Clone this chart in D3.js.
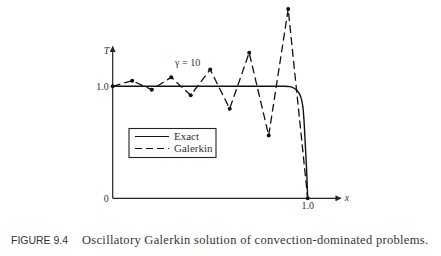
<!DOCTYPE html>
<html>
<head>
<meta charset="utf-8">
<script src="https://cdn.jsdelivr.net/npm/d3@7"></script>
<style>
  body { margin: 0; background: #fff; }
  svg { display: block; }
</style>
</head>
<body>
<script>
// Galerkin nodal values (gamma = 10)
let galerkinX = [0, 0.1, 0.2, 0.3, 0.4, 0.5, 0.6, 0.7, 0.8, 0.9, 1.0],
    galerkinT = [1.0, 1.05, 0.97, 1.08, 0.92, 1.15, 0.80, 1.30, 0.56, 1.69, 0.0];

// exact solution
let exactX = [0, 0.5, 0.88, 0.91, 0.935, 0.955, 0.967, 0.975, 0.98, 0.987, 0.994, 1.0],
    exactT = [1.0, 1.0, 1.0, 0.997, 0.978, 0.94, 0.89, 0.82, 0.72, 0.50, 0.27, 0.0];

let xTicks = [1.0],
    yTicks = [0, 1.0],
    legendLabels = ["Exact", "Galerkin"];

let width = 441,
    height = 256,
    serif = "'Liberation Serif', 'DejaVu Serif', serif";

let svg = d3.select("body").append("svg")
    .attr("width", width)
    .attr("height", height);

let xScale = d3.scaleLinear([0, 1], [112.7, 307.7]);
let yScale = d3.scaleLinear([0, 1], [198.3, 86.3]);

// arrow head
svg.append("defs").append("marker")
    .attr("id", "arrow")
    .attr("viewBox", "0 0 10 10")
    .attr("refX", 9)
    .attr("refY", 5)
    .attr("markerWidth", 7)
    .attr("markerHeight", 5)
    .attr("orient", "auto")
    .append("path")
    .attr("d", "M0,0 L10,5 L0,10 Z")
    .attr("fill", "#222");

// axes
svg.append("line")
    .attr("x1", xScale(0)).attr("y1", yScale(0))
    .attr("x2", xScale(1.17)).attr("y2", yScale(0))
    .attr("stroke", "#222").attr("stroke-width", 1.2)
    .attr("marker-end", "url(#arrow)");
svg.append("line")
    .attr("x1", xScale(0)).attr("y1", yScale(0))
    .attr("x2", xScale(0)).attr("y2", yScale(1.355))
    .attr("stroke", "#222").attr("stroke-width", 1.2)
    .attr("marker-end", "url(#arrow)");

svg.append("text")
    .text("x")
    .attr("x", xScale(1.19)).attr("y", yScale(0) + 3)
    .attr("font-family", serif).attr("font-style", "italic")
    .attr("font-size", 10).attr("fill", "#333");
svg.append("text")
    .text("T")
    .attr("x", xScale(0) - 9).attr("y", yScale(1.3) + 1)
    .attr("font-family", serif).attr("font-style", "italic")
    .attr("font-size", 10).attr("fill", "#333");

// tick labels
svg.selectAll(".ytick").data(yTicks).enter().append("text")
    .attr("class", "ytick")
    .text(d => d === 0 ? "0" : d3.format(".1f")(d))
    .attr("x", xScale(0) - 4)
    .attr("y", d => yScale(d) + 3.5)
    .attr("text-anchor", "end")
    .attr("font-family", serif).attr("font-size", 10).attr("fill", "#333");
svg.selectAll(".xtick").data(xTicks).enter().append("text")
    .attr("class", "xtick")
    .text(d => d3.format(".1f")(d))
    .attr("x", d => xScale(d))
    .attr("y", yScale(0) + 11)
    .attr("text-anchor", "middle")
    .attr("font-family", serif).attr("font-size", 10).attr("fill", "#333");

// exact curve
let exact = exactX.map((x, i) => [x, exactT[i]]);
svg.append("path")
    .datum(exact)
    .attr("d", d3.line().x(d => xScale(d[0])).y(d => yScale(d[1])).curve(d3.curveMonotoneY))
    .attr("fill", "none").attr("stroke", "#111").attr("stroke-width", 1.4);

// galerkin
let galerkin = galerkinX.map((x, i) => [x, galerkinT[i]]);
svg.append("path")
    .datum(galerkin)
    .attr("d", d3.line().x(d => xScale(d[0])).y(d => yScale(d[1])))
    .attr("fill", "none").attr("stroke", "#111").attr("stroke-width", 1.3)
    .attr("stroke-dasharray", "8,4");
svg.selectAll(".node").data(galerkin).enter().append("circle")
    .attr("class", "node")
    .attr("cx", d => xScale(d[0]))
    .attr("cy", d => yScale(d[1]))
    .attr("r", 2)
    .attr("fill", "#111");

svg.append("text")
    .text("\u03b3 = 10")
    .attr("x", xScale(0.32)).attr("y", yScale(1.18))
    .attr("font-family", serif).attr("font-size", 10).attr("fill", "#333");

// legend
let legend = svg.append("g").attr("transform", "translate(129,128.5)");
legend.append("rect")
    .attr("width", 87).attr("height", 29)
    .attr("fill", "#fff").attr("stroke", "#222").attr("stroke-width", 1.1);
legendLabels.forEach((label, i) => {
    legend.append("line")
        .attr("x1", 6).attr("x2", 40)
        .attr("y1", 8 + i * 12).attr("y2", 8 + i * 12)
        .attr("stroke", "#111").attr("stroke-width", 1.2)
        .attr("stroke-dasharray", i === 1 ? "7,4" : null);
    legend.append("text")
        .text(label)
        .attr("x", 45).attr("y", 11.5 + i * 12)
        .attr("font-family", serif).attr("font-size", 11).attr("fill", "#333");
});

// caption
let caption = svg.append("text")
    .attr("y", 243.5)
    .attr("fill", "#333");
caption.append("tspan")
    .text("FIGURE 9.4")
    .attr("x", 11)
    .attr("font-family", "'Liberation Sans', 'DejaVu Sans', sans-serif")
    .attr("font-size", 10.5)
    .attr("textLength", 57);
caption.append("tspan")
    .text("Oscillatory Galerkin solution of convection-dominated problems.")
    .attr("x", 82)
    .attr("font-family", serif)
    .attr("font-size", 12.5)
    .attr("textLength", 346);
</script>
</body>
</html>
